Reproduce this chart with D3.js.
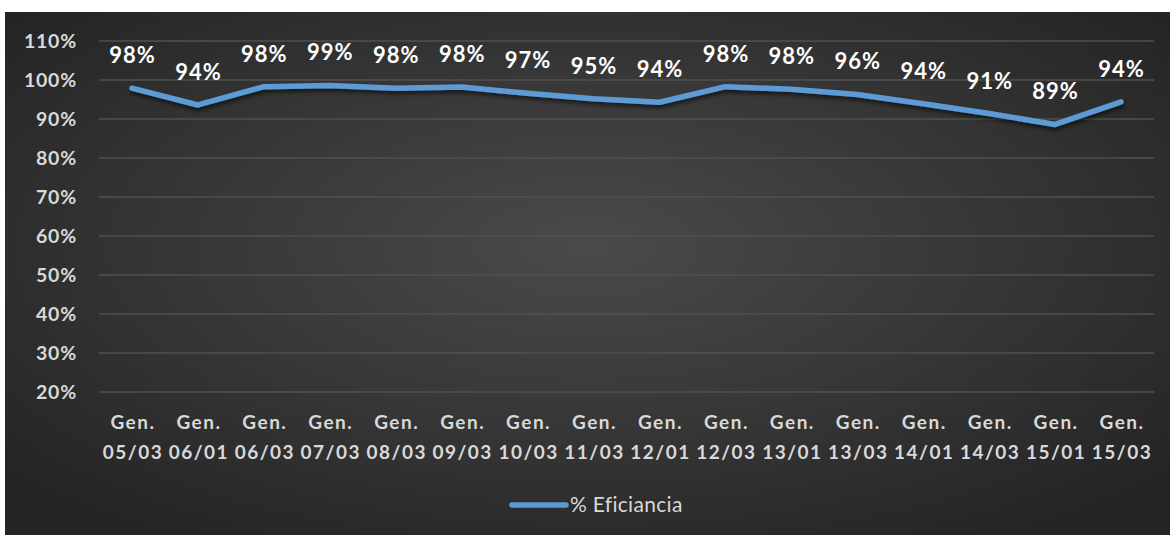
<!DOCTYPE html>
<html><head><meta charset="utf-8">
<script src="https://cdn.jsdelivr.net/npm/d3@7"></script>
<style>
html,body{margin:0;padding:0;background:#fff;}
svg{display:block;}
</style></head>
<body>
<svg id="c" width="1170" height="535"></svg>
<script>
const categories = ["Gen. 05/03","Gen. 06/01","Gen. 06/03","Gen. 07/03","Gen. 08/03","Gen. 09/03","Gen. 10/03","Gen. 11/03","Gen. 12/01","Gen. 12/03","Gen. 13/01","Gen. 13/03","Gen. 14/01","Gen. 14/03","Gen. 15/01","Gen. 15/03"];
const values = [0.979, 0.936, 0.983, 0.986, 0.979, 0.982, 0.966, 0.952, 0.943, 0.983, 0.976, 0.963, 0.939, 0.914, 0.886, 0.944];
const yTicks = [0.2,0.3,0.4,0.5,0.6,0.7,0.8,0.9,1.0,1.1];
const seriesName = "% Eficiancia";

const svg = d3.select("#c");
const defs = svg.append("defs");
const rg = defs.append("radialGradient").attr("id","bg").attr("cx","50%").attr("cy","45%").attr("r","65%");
rg.append("stop").attr("offset","0%").attr("stop-color","#4a4a4a");
rg.append("stop").attr("offset","100%").attr("stop-color","#252525");
const f = defs.append("filter").attr("id","sh").attr("x","-5%").attr("y","-50%").attr("width","110%").attr("height","200%");
f.append("feDropShadow").attr("dx",1).attr("dy",3).attr("stdDeviation",2).attr("flood-color","#000").attr("flood-opacity",0.6);

svg.append("rect").attr("x",5).attr("y",12).attr("width",1165).attr("height",523).attr("fill","url(#bg)");

const x = d3.scaleBand().domain(categories).range([99,1154]);
const y = d3.scaleLinear().domain([0.2,1.1]).range([392,41]);

const font = "Lato, 'Open Sans', sans-serif";

// gridlines
svg.append("g").selectAll("line").data(yTicks).join("line")
  .attr("x1",99).attr("x2",1154)
  .attr("y1",d=>y(d)).attr("y2",d=>y(d))
  .attr("stroke","#515151").attr("stroke-width",1.3);

// y axis labels
const yAxis = d3.axisLeft(y).tickValues(yTicks).tickFormat(d3.format(".0%")).tickSize(0).tickPadding(0);
const ya = svg.append("g").attr("transform","translate(77,0)").call(yAxis);
ya.select(".domain").remove();
ya.selectAll("text").attr("fill","#d9d9d9").attr("font-family",font).attr("font-weight","bold")
  .attr("font-size","19.5px").attr("letter-spacing","0.8px").attr("dy","0.35em");

// x axis labels
const xa = svg.append("g").attr("transform","translate(0,392)").call(d3.axisBottom(x).tickSize(0).tickFormat(""));
xa.select(".domain").remove();
xa.selectAll(".tick").each(function(d){
  const parts = d.split(" ");
  const t = d3.select(this).append("text").attr("fill","#d9d9d9").attr("font-family",font)
    .attr("font-weight","bold").attr("font-size","19px").attr("letter-spacing","1.5px").attr("text-anchor","middle");
  t.append("tspan").attr("x",1).attr("y",37).text(parts[0]);
  t.append("tspan").attr("x",1).attr("y",67).text(parts[1]);
});

// line
const line = d3.line().x((d,i)=>x(categories[i])+x.bandwidth()/2).y(d=>y(d));
svg.append("path").datum(values).attr("d",line).attr("fill","none")
  .attr("stroke","#5b9bd5").attr("stroke-width",5.5).attr("stroke-linecap","round").attr("stroke-linejoin","round")
  .attr("filter","url(#sh)");

// data labels
svg.append("g").selectAll("text").data(values).join("text")
  .attr("x",(d,i)=>x(categories[i])+x.bandwidth()/2+0.5)
  .attr("y",d=>y(d)-25)
  .attr("text-anchor","middle").attr("fill","#ffffff")
  .attr("font-family",font).attr("font-weight","bold").attr("font-size","22px").attr("letter-spacing","1px")
  .text(d=>d3.format(".0%")(d));

// legend
svg.append("line").attr("x1",512).attr("x2",566).attr("y1",505).attr("y2",505)
  .attr("stroke","#5b9bd5").attr("stroke-width",5.5).attr("stroke-linecap","round");
svg.append("text").attr("x",570).attr("y",505).attr("dy","0.35em").attr("fill","#d9d9d9")
  .attr("font-family",font).attr("font-size","21px").attr("letter-spacing","0.3px").text(seriesName);
</script>
</body></html>
